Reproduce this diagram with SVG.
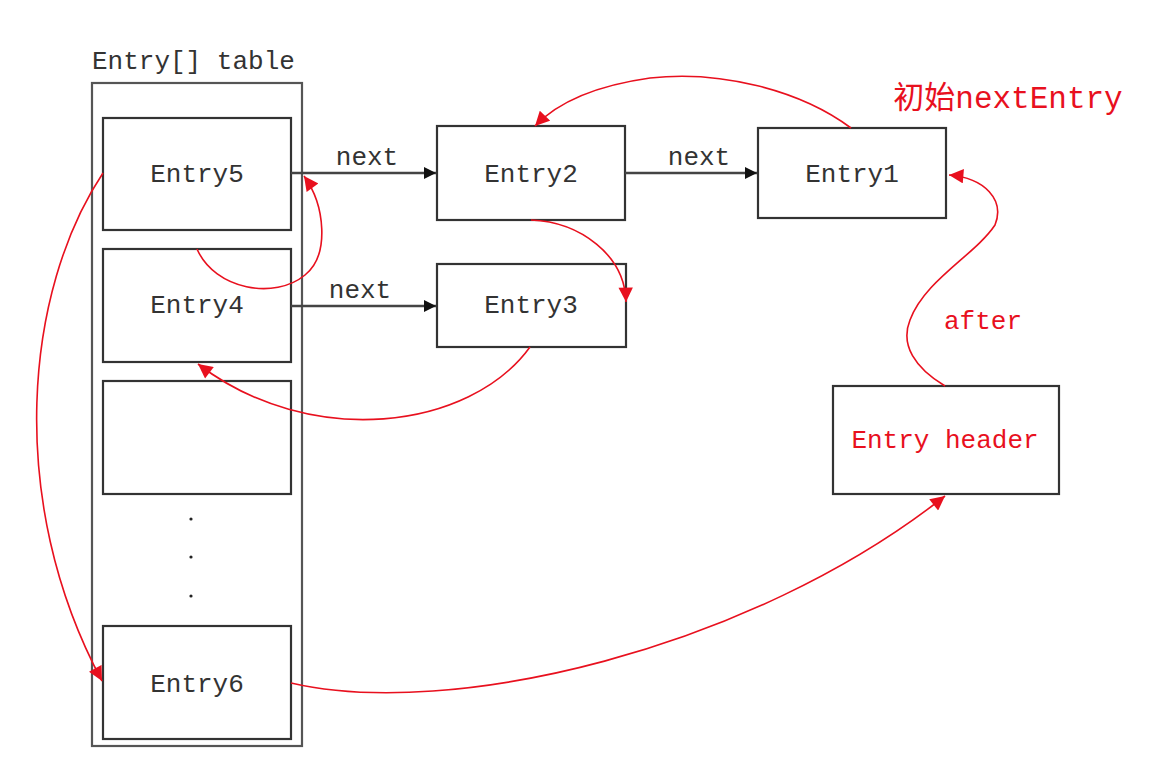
<svg xmlns="http://www.w3.org/2000/svg" width="1172" height="776" viewBox="0 0 1172 776">
<style>
.box{fill:#fff;stroke:#333;stroke-width:2.2}
.outer{fill:none;stroke:#555;stroke-width:2.2}
.t{font-family:"Liberation Mono","Noto Sans CJK SC",monospace;font-size:26px;fill:#333;text-anchor:middle}
.red{fill:#e8101e}
.blk{fill:none;stroke:#444;stroke-width:2.5}
.rc{fill:none;stroke:#e8101e;stroke-width:1.6}
</style>
<defs>
<marker id="ab" viewBox="0 0 10 10" refX="10" refY="5" markerWidth="5" markerHeight="5" orient="auto" markerUnits="strokeWidth"><path d="M0,0L10,5L0,10z" fill="#111"/></marker>
<marker id="ar" viewBox="0 0 10 10" refX="10" refY="5" markerWidth="10" markerHeight="9" orient="auto" markerUnits="strokeWidth"><path d="M0,0L10,5L0,10z" fill="#e8101e"/></marker>
</defs>
<rect width="1172" height="776" fill="#fff"/>
<g id="table">
<text x="92" y="69" class="t" style="text-anchor:start">Entry[] table</text>
<rect class="outer" x="92" y="83" width="210" height="663"/>
</g>
<g id="entry5"><rect class="box" x="103" y="118" width="188" height="112"/><text class="t" x="197" y="182">Entry5</text></g>
<g id="entry4"><rect class="box" x="103" y="249" width="188" height="113"/><text class="t" x="197" y="313">Entry4</text></g>
<g id="empty"><rect class="box" x="103" y="381" width="188" height="113"/></g>
<g id="dots" fill="#222"><circle cx="191" cy="519" r="1.6"/><circle cx="191" cy="557" r="1.6"/><circle cx="191" cy="596" r="1.6"/></g>
<g id="entry6"><rect class="box" x="103" y="626" width="188" height="113"/><text class="t" x="197" y="692">Entry6</text></g>
<g id="entry2"><rect class="box" x="437" y="126" width="188" height="94"/><text class="t" x="531" y="182">Entry2</text></g>
<g id="entry3"><rect class="box" x="437" y="264" width="189" height="83"/><text class="t" x="531" y="313">Entry3</text></g>
<g id="entry1"><rect class="box" x="758" y="128" width="188" height="90"/><text class="t" x="852" y="182">Entry1</text></g>
<g id="header"><rect class="box" x="833" y="386" width="226" height="108"/><text class="t red" x="945" y="448">Entry header</text></g>
<g id="connectors">
<path class="blk" d="M291,173H436" marker-end="url(#ab)"/>
<path class="blk" d="M625,173H757" marker-end="url(#ab)"/>
<path class="blk" d="M291,306H436" marker-end="url(#ab)"/>
<text class="t" x="367" y="165">next</text>
<text class="t" x="699" y="165">next</text>
<text class="t" x="360" y="298">next</text>
<path class="rc" d="M851,128C800,90 720,70 650,78C600,85 560,100 535,126" marker-end="url(#ar)"/>
<path class="rc" d="M531,220C580,222 625,255 626,302" marker-end="url(#ar)"/>
<path class="rc" d="M530,347C470,430 310,450 198,364" marker-end="url(#ar)"/>
<path class="rc" d="M197,249C215,290 275,300 305,275C330,255 325,205 304,176" marker-end="url(#ar)"/>
<path class="rc" d="M103,173C25,290 5,500 102,681" marker-end="url(#ar)"/>
<path class="rc" d="M291,683C450,720 750,650 945,496" marker-end="url(#ar)"/>
<path class="rc" d="M945,386C915,368 900,345 910,320C925,280 975,255 995,225C1005,200 985,178 949,175" marker-end="url(#ar)"/>
<text class="t red" x="983" y="329">after</text>
<text class="t red" x="1008" y="108" style="font-size:31px">初始nextEntry</text>
</g>
</svg>
